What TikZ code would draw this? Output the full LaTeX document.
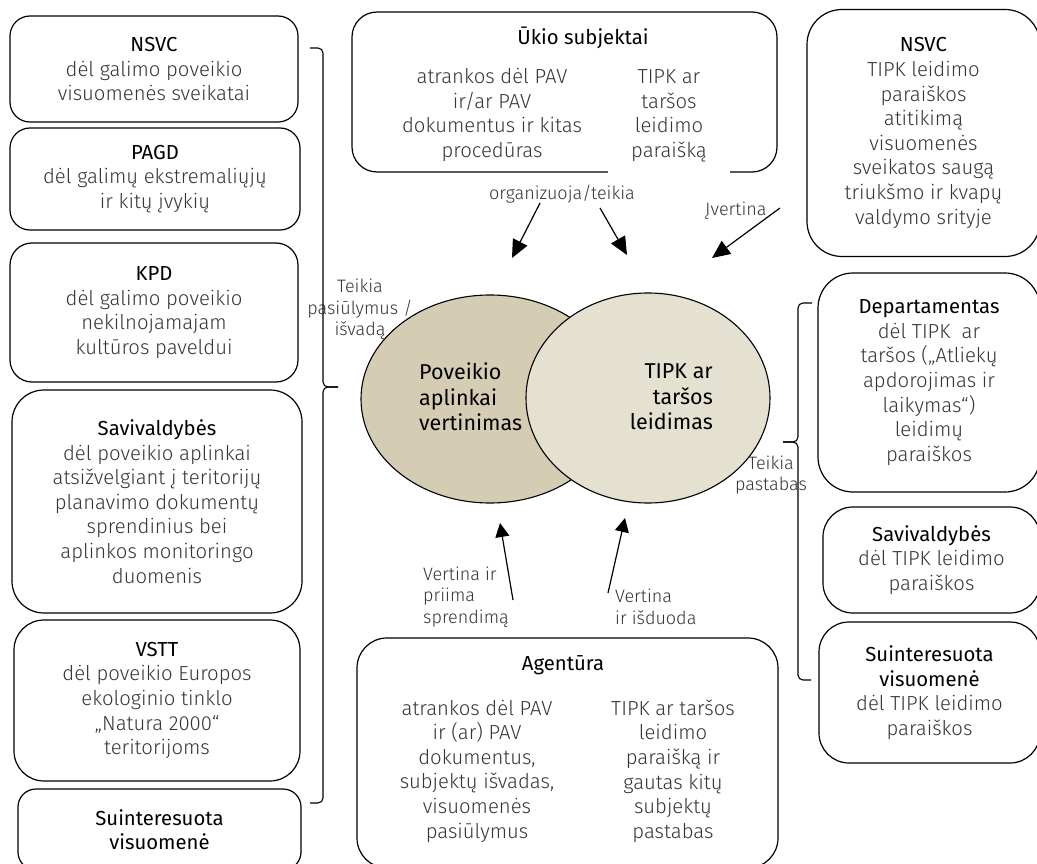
\documentclass[tikz,border=0pt]{standalone}
\usepackage{fontspec}
\setmainfont{Fira Sans}
\newfontfamily\FiraLight{Fira Sans Light}
\newfontfamily\FiraReg{Fira Sans}
\usetikzlibrary{arrows.meta,shapes.geometric}
\definecolor{bodyc}{HTML}{353535}
\definecolor{ellA}{HTML}{D4CDB3}
\definecolor{ellB}{HTML}{E5E1D1}
\newcommand{\BodyFont}{\FiraLight\fontsize{20.3}{24.6}\selectfont}
\newcommand{\LabFont}{\FiraLight\fontsize{18}{21.7}\selectfont}
\newcommand{\EllFont}{\FiraReg\fontsize{21.5}{25.5}\selectfont}
\newcommand{\TitleFont}{\FiraReg\fontsize{20.3}{24.6}\selectfont}
\newcommand{\TitleTxt}[1]{{\FiraReg\color{black}#1}}
\begin{document}
\begin{tikzpicture}[x=1pt,y=-1pt,
  box/.style={draw=black, line width=1.2pt, rounded corners=#1, inner sep=0pt, align=center, font=\BodyFont, text=bodyc},
  box/.default=20pt,
  txt/.style={font=\BodyFont, text=bodyc, align=center, inner sep=0pt},
  ttl/.style={font=\TitleFont, text=black, inner sep=0pt},
  lab/.style={font=\LabFont, text=bodyc, inner sep=0pt},
  ell/.style={draw=black, line width=1.1pt, ellipse, inner sep=0pt},
  etxt/.style={font=\EllFont, text=black, inner sep=0pt},
  arr/.style={line width=1.2pt, -{Triangle[length=18pt,width=16pt]}},
  arrs/.style={line width=1.2pt, -{Triangle[length=14pt,width=14pt]}},
  brace/.style={line width=1.1pt, rounded corners=5pt},
]
\useasboundingbox (0,0) rectangle (1037,864);
\clip (0,0) rectangle (1037,864);
\fill[white] (0,0) rectangle (1037,864);

% left column
\node[box=20pt, minimum width=288pt, minimum height=106pt] (L1) at (154,69) {\TitleTxt{NSVC}\\dėl galimo poveikio\\visuomenės sveikatai};
\node[box=20pt, minimum width=290pt, minimum height=102pt] (L2) at (155,179) {\TitleTxt{PAGD}\\dėl galimų ekstremaliųjų\\ir kitų įvykių};
\node[box=22pt, minimum width=288pt, minimum height=139pt] (L3) at (154,312.5) {\TitleTxt{KPD}\\dėl galimo poveikio\\nekilnojamajam\\kultūros paveldui};
\node[box=32pt, minimum width=290pt, minimum height=223pt] (L4) at (157,501.5) {\TitleTxt{Savivaldybės}\\dėl poveikio aplinkai\\atsižvelgiant į teritorijų\\planavimo dokumentų\\sprendinius bei\\aplinkos monitoringo\\duomenis};
\node[box=30pt, minimum width=286pt, minimum height=161pt] (L5) at (157,700.5) {\TitleTxt{VSTT}\\dėl poveikio Europos\\ekologinio tinklo\\„Natura 2000“\\teritorijoms};
\node[box=18pt, minimum width=283pt, minimum height=81pt] (L6) at (159.5,829.5) {\TitleTxt{Suinteresuota}\\\TitleTxt{visuomenė}};

% top box
\node[box=25pt, minimum width=425pt, minimum height=160pt] (U) at (564.5,92) {};
\node[fill=white, inner sep=0pt, minimum width=122pt, minimum height=6pt] (Ugap) at (669,172) {};
\node[ttl, anchor=base] (Ut) at (583,45) {Ūkio subjektai};
\node[txt] (Ul) at (492,115) {atrankos dėl PAV\\ir/ar PAV\\dokumentus ir kitas\\procedūras};
\node[txt] (Ur) at (669,116) {TIPK ar\\taršos\\leidimo\\paraišką};

% right column
\node[box=35pt, minimum width=233pt, minimum height=247pt] (R1) at (923.5,133) {\TitleTxt{NSVC}\\TIPK leidimo\\paraiškos\\atitikimą\\visuomenės\\sveikatos saugą\\triukšmo ir kvapų\\valdymo srityje};
\node[box=35pt, minimum width=222pt, minimum height=219pt] (R2) at (929,382.5) {\TitleTxt{Departamentas}\\dėl TIPK\ \ ar\\taršos („Atliekų\\apdorojimas ir\\laikymas“)\\leidimų\\paraiškos};
\node[box=30pt, minimum width=217pt, minimum height=106pt] (R3) at (931.5,560) {\TitleTxt{Savivaldybės}\\dėl TIPK leidimo\\paraiškos};
\node[box=30pt, minimum width=221pt, minimum height=141pt] (R4) at (929.5,692.5) {\TitleTxt{Suinteresuota}\\\TitleTxt{visuomenė}\\dėl TIPK leidimo\\paraiškos};

% bottom box
\node[box=30pt, minimum width=421pt, minimum height=230pt] (A) at (567.5,753) {};
\node[ttl, anchor=base] (At) at (563,670) {Agentūra};
\node[txt] (Al) at (477,771) {atrankos dėl PAV\\ir (ar) PAV\\dokumentus,\\subjektų išvadas,\\visuomenės\\pasiūlymus};
\node[txt] (Ar) at (673,771) {TIPK ar taršos\\leidimo\\paraišką ir\\gautas kitų\\subjektų\\pastabas};

% ellipses
\node[ell, fill=ellA, minimum width=258pt, minimum height=208pt] (E1) at (490,399) {};
\node[ell, fill=ellB, minimum width=244pt, minimum height=210pt] (E2) at (648,398) {};
\node[etxt, anchor=west, align=left] (E1t) at (419,397) {Poveikio\\aplinkai\\vertinimas};
\node[etxt, anchor=east, align=right] (E2t) at (713,397) {TIPK ar\\taršos\\leidimas};

% labels
\node[lab, anchor=base] (l1) at (562,200) {organizuoja/teikia};
\node[lab, anchor=base] (l2) at (736,215) {Įvertina};
\node[lab, align=center] (l3) at (360,309.5) {Teikia\\pasiūlymus /\\išvadą};
\node[lab, align=center] (l4) at (771,475) {Teikia\\pastabas};
\node[lab, align=left, anchor=west] (l5) at (423,597) {Vertina ir\\priima\\sprendimą};
\node[lab, align=left, anchor=west] (l6) at (615,607) {Vertina\\ir išduoda};

% arrows
\coordinate (a1s) at (540,203); \coordinate (a1e) at (512,258);
\coordinate (a2s) at (600,208); \coordinate (a2e) at (627,255);
\coordinate (a3s) at (780,208); \coordinate (a3e) at (712,258);
\coordinate (a4s) at (513,600); \coordinate (a4e) at (500,523);
\coordinate (a5s) at (608,593); \coordinate (a5e) at (625,518);
\draw[arr] (a1s) -- (a1e);
\draw[arr] (a2s) -- (a2e);
\draw[arr] (a3s) -- (a3e);
\draw[arrs] (a4s) -- (a4e);
\draw[arrs] (a5s) -- (a5e);

% braces
\coordinate (lbT) at (310,48); \coordinate (lbB) at (310,803);
\coordinate (lbX) at (323,387); \coordinate (lbM) at (338,387);
\draw[brace] (lbT) -| (lbX) -- (lbM);
\draw[brace] (lbB) -| (lbX) -- (lbM);
\coordinate (rbT) at (812,303); \coordinate (rbB) at (811,680);
\coordinate (rbX) at (798,442); \coordinate (rbM) at (783,442);
\draw[brace] (rbT) -| (rbX) -- (rbM);
\draw[brace] (rbB) -| (rbX) -- (rbM);
\end{tikzpicture}
\end{document}
